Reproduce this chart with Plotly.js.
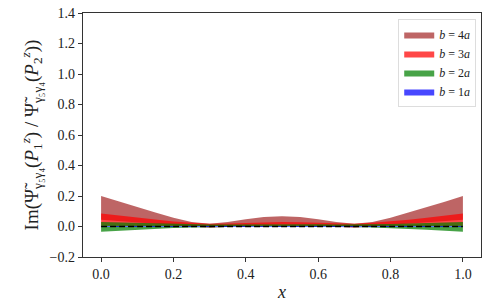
<!DOCTYPE html>
<html><head><meta charset="utf-8">
<script src="https://cdn.plot.ly/plotly-3.0.1.min.js"></script>
<style>html,body{margin:0;padding:0;background:#fff}#plot{width:489px;height:308px}</style>
</head><body><div id="plot"></div>
<script>
const xs = [0,0.05,0.1,0.15,0.2,0.25,0.3,0.35,0.4,0.45,0.5,0.55,0.6,0.65,0.7,0.75,0.8,0.85,0.9,0.95,1.0];
const labels = ["b = 4a","b = 3a","b = 2a","b = 1a"];
const b4Upper = [0.200,0.163,0.127,0.092,0.058,0.030,0.018,0.030,0.048,0.062,0.068,0.062,0.048,0.030,0.018,0.030,0.058,0.092,0.127,0.163,0.200];
const b4Lower = [0.045,0.036,0.027,0.018,0.010,0.002,-0.008,-0.002,0.005,0.010,0.012,0.010,0.005,-0.002,-0.008,0.002,0.010,0.018,0.027,0.036,0.045];
const b3Upper = [0.085,0.072,0.058,0.045,0.033,0.024,0.018,0.020,0.024,0.028,0.030,0.028,0.024,0.020,0.018,0.024,0.033,0.045,0.058,0.072,0.085];
const b3Lower = [0.005,0.004,0.003,0.002,0.000,-0.002,-0.004,-0.002,0.000,0.002,0.003,0.002,0.000,-0.002,-0.004,-0.002,0.000,0.002,0.003,0.004,0.005];
const b2Upper = [0.030,0.027,0.023,0.019,0.016,0.014,0.013,0.013,0.014,0.015,0.015,0.015,0.014,0.013,0.013,0.014,0.016,0.019,0.023,0.027,0.030];
const b2Lower = [-0.035,-0.028,-0.021,-0.015,-0.010,-0.006,-0.003,-0.002,-0.001,-0.001,-0.001,-0.001,-0.001,-0.002,-0.003,-0.006,-0.010,-0.015,-0.021,-0.028,-0.035];
const b1Upper = [0.003,0.003,0.003,0.003,0.003,0.003,0.003,0.003,0.003,0.003,0.003,0.003,0.003,0.003,0.003,0.003,0.003,0.003,0.003,0.003,0.003];
const b1Lower = [-0.003,-0.003,-0.003,-0.003,-0.003,-0.003,-0.003,-0.003,-0.003,-0.003,-0.003,-0.003,-0.003,-0.003,-0.003,-0.003,-0.003,-0.003,-0.003,-0.003,-0.003];
const refY = [0,0];
const refX = [0,1];

const bands = [
  [b4Lower,b4Upper,'rgba(165,42,42,0.72)'],
  [b3Lower,b3Upper,'rgba(255,0,0,0.72)'],
  [b2Lower,b2Upper,'rgba(0,128,0,0.72)'],
  [b1Lower,b1Upper,'rgba(0,0,255,0.72)']
];
const FAM = 'Liberation Serif';
const traces = [];
bands.forEach((b,i)=>{
  traces.push({x:xs,y:b[0],mode:'lines',line:{width:0,color:b[2]},showlegend:false,hoverinfo:'skip'});
  traces.push({x:xs,y:b[1],mode:'lines',line:{width:0,color:b[2]},fill:'tonexty',fillcolor:b[2],
    name:'<i>b</i> = '+labels[i].slice(4,5)+'<i>a</i>'});
});
traces.push({x:refX,y:refY,mode:'lines',line:{color:'rgba(90,120,255,0.9)',width:1.2,dash:'dot'},showlegend:false,hoverinfo:'skip'});
traces.push({x:refX,y:refY,mode:'lines',line:{color:'black',width:1.4,dash:'6px,3px'},showlegend:false,hoverinfo:'skip'});

const layout = {
  width:489,height:308,
  margin:{l:83,r:8,t:13,b:51},
  paper_bgcolor:'white',plot_bgcolor:'white',
  font:{family:FAM,size:14,color:'#222'},
  showlegend:true,
  legend:{x:0.988,y:0.975,xanchor:'right',yanchor:'top',bgcolor:'white',traceorder:'normal',
    bordercolor:'#ddd',borderwidth:1,font:{family:FAM,size:12},itemwidth:30,tracegroupgap:0},
  xaxis:{range:[-0.05,1.05],tickmode:'linear',tick0:0,dtick:0.2,tickformat:'.1f',
    showgrid:false,zeroline:false,showline:true,mirror:true,linecolor:'#333',linewidth:1.2,
    ticks:'outside',ticklen:4,tickcolor:'#333',tickfont:{family:FAM,size:14},
    title:{text:'<i>x</i>',font:{family:FAM,size:18},standoff:4}},
  yaxis:{range:[-0.2,1.4],tickmode:'linear',tick0:0,dtick:0.2,tickformat:'.1f',
    showgrid:false,zeroline:false,showline:true,mirror:true,linecolor:'#333',linewidth:1.2,
    ticks:'outside',ticklen:4,tickcolor:'#333',tickfont:{family:FAM,size:14},
    title:{text:'Im(\u03A8\u0303<sub>\u03B3\u2085\u03B3\u2084</sub>(<i>P</i><sub>1</sub><sup><i>z</i></sup>) / \u03A8\u0303<sub>\u03B3\u2085\u03B3\u2084</sub>(<i>P</i><sub>2</sub><sup><i>z</i></sup>))',
      font:{family:FAM,size:19},standoff:6}}
};
Plotly.newPlot('plot',traces,layout,{staticPlot:true,displayModeBar:false});
</script></body></html>
